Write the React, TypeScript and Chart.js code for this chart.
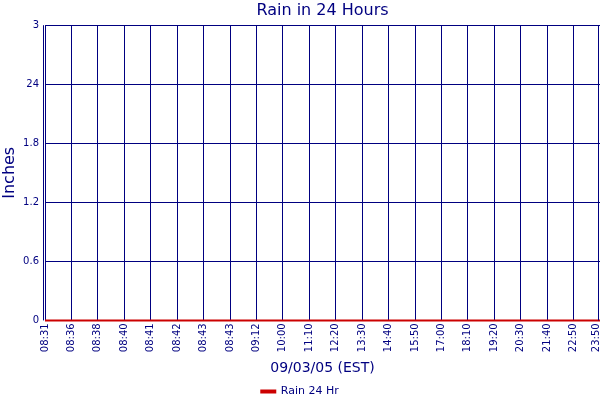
import React, { useEffect, useRef } from "react";
import { Chart, registerables } from "chart.js";

Chart.register(...registerables);

// time stamps along the bottom (09/03/05, EST)
const times = [
  "08:31", "08:36", "08:38", "08:40", "08:41", "08:42", "08:43", "08:43",
  "09:12", "10:00", "11:10", "12:20", "13:30", "14:40", "15:50", "17:00",
  "18:10", "19:20", "20:30", "21:40", "22:50", "23:50",
];
// rain in the last 24 hours, inches
const rain24 = [
  0, 0, 0, 0, 0, 0, 0, 0, 0, 0, 0, 0, 0, 0, 0, 0, 0, 0, 0, 0, 0, 0,
];
// y tick values and the labels printed for them (the "24" is on the original)
const yTickValues = [0, 0.6, 1.2, 1.8, 2.4, 3];
const yTickLabels = ["0", "0.6", "1.2", "1.8", "24", "3"];

const NAVY = "#000080";
const RED = "#cc0000";
const FONT = "'DejaVu Sans', Verdana, sans-serif";

// second line just inside the left and right edges of the plot,
// and keep the last time label inside the canvas
const edgeLines = {
  id: "edgeLines",
  beforeDraw(chart: any) {
    const items = chart.scales.x.getLabelItems();
    const last = items[items.length - 1];
    if (last && !last._moved) {
      last.options.translation[0] -= 4;
      last._moved = true;
    }
  },
  afterDraw(chart: any) {
    const { ctx, chartArea } = chart;
    ctx.save();
    ctx.strokeStyle = NAVY;
    ctx.lineWidth = 1;
    ctx.beginPath();
    ctx.moveTo(chartArea.left - 1.5, chartArea.top);
    ctx.lineTo(chartArea.left - 1.5, chartArea.bottom);
    ctx.moveTo(chartArea.right - 1.5, chartArea.top);
    ctx.lineTo(chartArea.right - 1.5, chartArea.bottom);
    ctx.stroke();
    ctx.restore();
  },
};

export default function App() {
  const canvasRef = useRef<HTMLCanvasElement | null>(null);

  useEffect(() => {
    document.body.style.margin = "0";
    if (!canvasRef.current) return;

    const chart = new Chart(canvasRef.current, {
      type: "line",
      data: {
        labels: times,
        datasets: [
          {
            label: "Rain 24 Hr",
            data: rain24,
            borderColor: RED,
            backgroundColor: RED,
            borderWidth: 2,
            pointRadius: 0,
            tension: 0,
            clip: 3,
          },
        ],
      },
      options: {
        responsive: false,
        animation: false,
        layout: { padding: { top: 0, left: 0, right: 0, bottom: -7 } },
        plugins: {
          title: {
            display: true,
            text: "Rain in 24 Hours",
            color: NAVY,
            fullSize: false,
            font: { family: FONT, size: 16, weight: "normal" },
            padding: { top: 1, bottom: 5 },
          },
          legend: {
            position: "bottom",
            labels: {
              color: NAVY,
              font: { family: FONT, size: 11 },
              boxWidth: 14,
              boxHeight: 2,
              padding: 3,
            },
          },
          tooltip: { enabled: false },
        },
        scales: {
          x: {
            offset: false,
            grid: { color: NAVY, drawTicks: false, lineWidth: 1 },
            border: { color: NAVY },
            ticks: {
              color: NAVY,
              font: { family: FONT, size: 10 },
              minRotation: 90,
              maxRotation: 90,
              autoSkip: false,
              padding: 3,
            },
            title: {
              display: true,
              text: "09/03/05 (EST)",
              color: NAVY,
              font: { family: FONT, size: 14 },
              padding: { top: 5, bottom: 6 },
            },
            afterFit: (scale: any) => {
              scale.paddingRight = 0;
              scale.paddingLeft = 0;
            },
          },
          y: {
            min: 0,
            max: 3,
            afterBuildTicks: (scale: any) => {
              scale.ticks = yTickValues.map((v) => ({ value: v }));
            },
            grid: { color: NAVY, drawTicks: false, lineWidth: 1 },
            border: { color: NAVY },
            ticks: {
              color: NAVY,
              font: { family: FONT, size: 10 },
              padding: 6,
              callback: (value: any) => {
                const i = yTickValues.findIndex((v) => Math.abs(v - value) < 1e-6);
                return i >= 0 ? yTickLabels[i] : "";
              },
            },
            title: {
              display: true,
              text: "Inches",
              color: NAVY,
              font: { family: FONT, size: 16 },
              padding: { top: 0, bottom: 0 },
            },
            afterFit: (scale: any) => {
              scale.width = 45;
            },
          },
        },
      },
      plugins: [edgeLines],
    });

    return () => chart.destroy();
  }, []);

  return (
    <div style={{ width: 600, height: 400, background: "#fff" }}>
      <canvas ref={canvasRef} width={600} height={400} />
    </div>
  );
}
